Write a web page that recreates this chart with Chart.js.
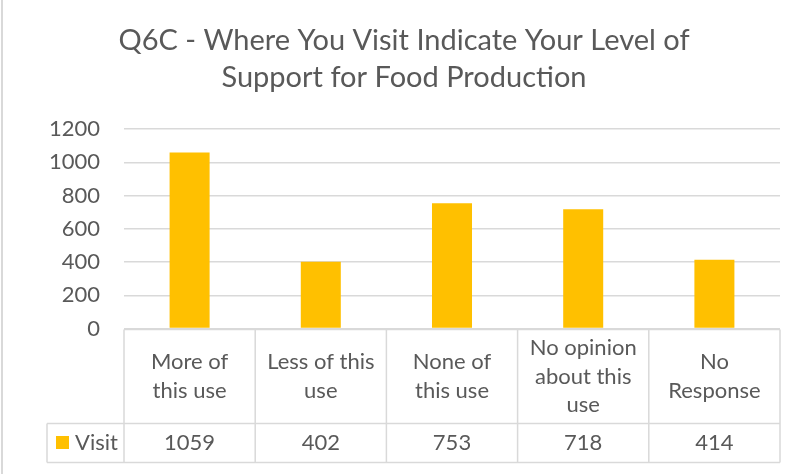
<!DOCTYPE html>
<html>
<head>
<meta charset="utf-8">
<title>Q6C - Food Production</title>
<script src="https://cdn.jsdelivr.net/npm/chart.js@4.4.1/dist/chart.umd.min.js"></script>
<style>
  html, body { margin: 0; padding: 0; background: #fff; }
  #wrap { position: relative; width: 808px; height: 474px; }
  #wrap::before {
    content: ''; position: absolute; left: 1px; top: 0; bottom: 0;
    width: 2px; background: #d9d9d9;
  }
  canvas { display: block; }
</style>
</head>
<body>
<div id="wrap"><canvas id="chart" width="808" height="474"></canvas></div>
<script>
// Chart data
const titleLines = ['Q6C - Where You Visit Indicate Your Level of', 'Support for Food Production'];
const categories = [
    ['More of', 'this use'],
    ['Less of this', 'use'],
    ['None of', 'this use'],
    ['No opinion', 'about this', 'use'],
    ['No', 'Response']
];
const seriesName = 'Visit';
const visits = [1059, 402, 753, 718, 414];
const yTicks = [0, 200, 400, 600, 800, 1000, 1200];

const textColor = '#595959';
const lineColor = '#d9d9d9';
const barColor = '#FFC000';
const fontFamily = 'Lato, "Open Sans", sans-serif';

// Excel-style data table under the plot area
const dataTable = {
    id: 'dataTable',
    afterDraw(chart) {
        const { ctx, chartArea } = chart;
        const x = chart.scales.x;
        const n = categories.length;
        const colW = (chartArea.right - chartArea.left) / n;
        const top = chartArea.bottom + 1;
        const headBottom = top + 94;
        const rowBottom = headBottom + 39;
        const keyLeft = 47;

        ctx.save();
        ctx.strokeStyle = lineColor;
        ctx.lineWidth = 1.5;
        ctx.beginPath();
        ctx.moveTo(chartArea.left, top);
        ctx.lineTo(chartArea.right, top);
        ctx.moveTo(keyLeft, headBottom);
        ctx.lineTo(chartArea.right, headBottom);
        ctx.moveTo(keyLeft, rowBottom);
        ctx.lineTo(chartArea.right, rowBottom);
        ctx.moveTo(keyLeft, headBottom);
        ctx.lineTo(keyLeft, rowBottom);
        for (let i = 0; i <= n; i++) {
            const cx = chartArea.left + i * colW;
            ctx.moveTo(cx, top);
            ctx.lineTo(cx, rowBottom);
        }
        ctx.stroke();

        ctx.fillStyle = textColor;
        ctx.font = '22px ' + fontFamily;
        ctx.textAlign = 'center';
        ctx.textBaseline = 'middle';
        const lh = 28.5;
        categories.forEach((lines, i) => {
            const cx = x.getPixelForValue(i);
            const y0 = (top + headBottom) / 2 - (lines.length - 1) * lh / 2;
            lines.forEach((t, j) => ctx.fillText(t, cx, y0 + j * lh));
        });

        const rowMid = (headBottom + rowBottom) / 2;
        visits.forEach((v, i) => {
            ctx.fillText(String(v), x.getPixelForValue(i), rowMid);
        });

        // legend key + series name
        ctx.fillStyle = barColor;
        ctx.fillRect(56, rowMid - 7, 13, 13);
        ctx.fillStyle = textColor;
        ctx.textAlign = 'left';
        ctx.fillText(seriesName, 75, rowMid);
        ctx.restore();
    }
};

const chart = new Chart(document.getElementById('chart').getContext('2d'), {
    type: 'bar',
    data: {
        labels: categories,
        datasets: [{
            label: seriesName,
            data: visits,
            backgroundColor: barColor,
            borderWidth: 0,
            categoryPercentage: 1,
            barPercentage: 0.305
        }]
    },
    options: {
        responsive: false,
        animation: false,
        layout: { padding: { top: 0, right: 0, bottom: 145.5, left: 0 } },
        plugins: {
            legend: { display: false },
            tooltip: { enabled: false },
            title: {
                display: true,
                text: titleLines,
                color: textColor,
                font: { family: fontFamily, size: 29, weight: 'normal', lineHeight: '37px' },
                padding: { top: 22, bottom: 33 }
            }
        },
        scales: {
            x: { display: false },
            y: {
                min: yTicks[0],
                max: yTicks[yTicks.length - 1],
                afterBuildTicks: (scale) => { scale.ticks = yTicks.map(v => ({ value: v })); },
                afterFit: (scale) => { scale.width = 124; },
                border: { display: false },
                grid: { color: lineColor, lineWidth: 1.5, drawTicks: false },
                ticks: {
                    color: textColor,
                    padding: 24,
                    font: { family: fontFamily, size: 22 },
                    callback: (v) => String(v)
                }
            },
            // empty right-hand margin so the title stays centred on the canvas
            yRight: {
                position: 'right',
                min: yTicks[0],
                max: yTicks[yTicks.length - 1],
                afterFit: (scale) => { scale.width = 28; },
                border: { display: false },
                grid: { display: false },
                ticks: { display: false }
            }
        }
    },
    plugins: [dataTable]
});
</script>
</body>
</html>
